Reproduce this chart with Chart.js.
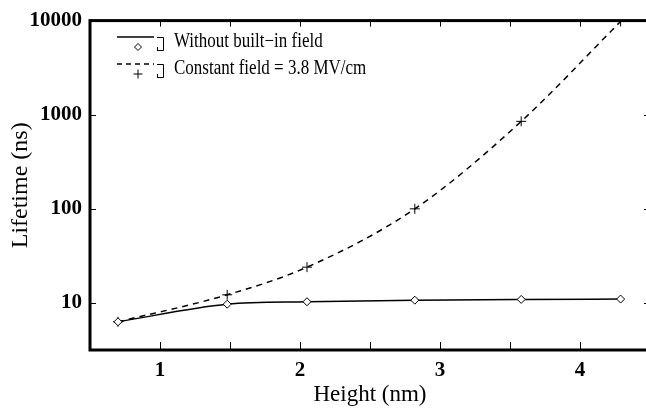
<!DOCTYPE html>
<html>
<head>
<meta charset="utf-8">
<script src="https://cdn.jsdelivr.net/npm/chart.js@4/dist/chart.umd.min.js"></script>
<style>
  html, body { margin: 0; padding: 0; background: #fff; }
  #wrap { width: 646px; height: 409px; overflow: hidden; }
  #box { width: 656px; height: 409px; }
</style>
</head>
<body>
<div id="wrap"><div id="box"><canvas id="graph"></canvas></div></div>
<script>
// heights (nm) where the points were computed
const heights = [0.7, 1.48, 2.05, 2.82, 3.58, 4.29];
// lifetime (ns) without built-in field
const noField = [6.3, 9.7, 10.3, 10.7, 10.9, 11.0];
// lifetime (ns) with constant field 3.8 MV/cm
const withField = [6.3, 12.2, 24, 100, 850, 9800];
const yTicks = [10, 100, 1000, 10000];
const legendLabels = ['Without built\u2212in field', 'Constant field = 3.8 MV/cm'];

const serif = '"Liberation Serif", "Times New Roman", serif';

function pts(xs, ys) {
  return xs.map((x, i) => ({ x, y: ys[i] }));
}

// frame, inward ticks and the little legend box
const decor = {
  id: 'decor',
  afterDraw(chart) {
    const ctx = chart.ctx;
    const a = chart.chartArea;
    const xs = chart.scales.x;
    const ys = chart.scales.y;
    ctx.save();
    ctx.strokeStyle = '#000';
    ctx.lineWidth = 1;
    // x ticks every 0.5, bottom and top
    for (let v = 1; v <= 4.5; v += 0.5) {
      const px = Math.round(xs.getPixelForValue(v)) + 0.5;
      ctx.beginPath();
      ctx.moveTo(px, a.bottom); ctx.lineTo(px, a.bottom - 8);
      ctx.moveTo(px, a.top); ctx.lineTo(px, a.top + 6);
      ctx.stroke();
    }
    yTicks.forEach(v => {
      const py = Math.round(ys.getPixelForValue(v)) + 0.5;
      ctx.beginPath();
      ctx.moveTo(a.left, py); ctx.lineTo(a.left + 6, py);
      ctx.moveTo(a.right, py); ctx.lineTo(a.right - 6, py);
      ctx.stroke();
    });
    ctx.lineWidth = 3;
    ctx.strokeRect(a.left, a.top, a.right - a.left, a.bottom - a.top);

    // legend
    const rows = [
      { y: 37, dash: [], label: legendLabels[0], ds: 0 },
      { y: 64, dash: [5, 4], label: legendLabels[1], ds: 1 }
    ];
    rows.forEach(r => {
      ctx.strokeStyle = '#000';
      ctx.lineWidth = 1.3;
      ctx.setLineDash(r.dash);
      ctx.beginPath();
      ctx.moveTo(117, r.y); ctx.lineTo(154, r.y);
      ctx.stroke();
      ctx.setLineDash([]);
      ctx.lineWidth = 1;
      // marker below the line
      const ds = chart.data.datasets[r.ds];
      ctx.fillStyle = '#fff';
      Chart.helpers.drawPoint(ctx, {
        pointStyle: ds.pointStyle, radius: ds.pointRadius - 0.5, borderWidth: 1
      }, 138, r.y + 10);
      // bracket
      ctx.beginPath();
      ctx.moveTo(157, r.y + 0.5); ctx.lineTo(163.5, r.y + 0.5);
      ctx.lineTo(163.5, r.y + 13.5); ctx.lineTo(157, r.y + 13.5);
      ctx.moveTo(157.5, r.y + 10); ctx.lineTo(157.5, r.y + 13.5);
      ctx.stroke();
      // label, slightly condensed like the original typeface
      ctx.save();
      ctx.fillStyle = '#000';
      ctx.font = '20px ' + serif;
      ctx.textBaseline = 'middle';
      ctx.translate(174, r.y + 5);
      ctx.scale(0.85, 1);
      ctx.fillText(r.label, 0, 0);
      ctx.restore();
    });
    ctx.restore();
  }
};

new Chart(document.getElementById('graph'), {
  type: 'line',
  data: {
    datasets: [
      {
        label: legendLabels[0],
        data: pts(heights, noField),
        borderColor: '#000',
        borderWidth: 1.5,
        cubicInterpolationMode: 'monotone',
        pointStyle: 'rectRot',
        pointRadius: 4,
        pointBorderWidth: 1,
        pointBorderColor: '#000',
        pointBackgroundColor: '#fff'
      },
      {
        label: legendLabels[1],
        data: pts(heights, withField),
        borderColor: '#000',
        borderWidth: 1.5,
        borderDash: [6, 5],
        cubicInterpolationMode: 'monotone',
        pointStyle: 'cross',
        pointRadius: 5,
        pointBorderWidth: 1,
        pointBorderColor: '#000',
        pointBackgroundColor: '#000'
      }
    ]
  },
  options: {
    responsive: true,
    maintainAspectRatio: false,
    animation: false,
    layout: { padding: { top: 16, right: 6, left: 0, bottom: 0 } },
    plugins: { legend: { display: false }, tooltip: { enabled: false } },
    scales: {
      x: {
        type: 'linear',
        min: 0.5,
        max: 4.5,
        grid: { display: false, drawTicks: false },
        border: { display: false },
        afterBuildTicks: s => { s.ticks = [1, 2, 3, 4].map(v => ({ value: v })); },
        ticks: {
          padding: 8,
          color: '#000',
          font: { family: serif, size: 21, weight: 'bold' },
          callback: v => String(v)
        },
        title: {
          display: true,
          text: 'Height (nm)',
          color: '#000',
          font: { family: serif, size: 23 },
          padding: { top: 0, bottom: 0 }
        },
        afterFit: s => { s.height = 59; }
      },
      y: {
        type: 'logarithmic',
        min: Math.sqrt(10),
        max: 10000,
        grid: { display: false, drawTicks: false },
        border: { display: false },
        afterBuildTicks: s => { s.ticks = yTicks.map(v => ({ value: v })); },
        ticks: {
          padding: 8,
          color: '#000',
          font: { family: serif, size: 21, weight: 'bold' },
          callback: v => String(v)
        },
        title: {
          display: true,
          text: 'Lifetime (ns)',
          color: '#000',
          font: { family: serif, size: 24 },
          padding: { top: 6, bottom: 0 }
        },
        afterFit: s => { s.width = 90; }
      }
    }
  },
  plugins: [decor]
});
</script>
</body>
</html>
